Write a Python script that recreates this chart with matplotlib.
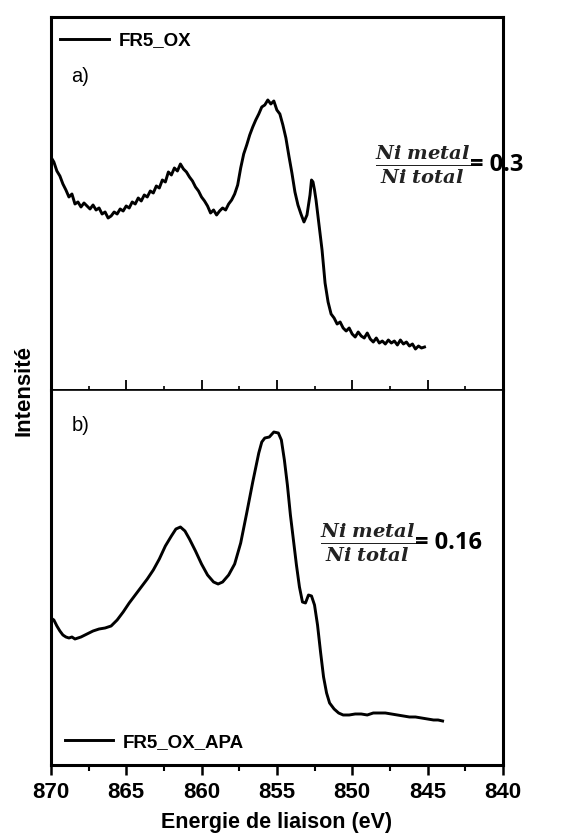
import matplotlib

matplotlib.use("Agg")
import matplotlib.pyplot as plt
from matplotlib.ticker import MultipleLocator, NullLocator

plt.rcParams["font.family"] = ["Liberation Sans", "DejaVu Sans"]
plt.rcParams["mathtext.fontset"] = "dejavuserif"

# a) FR5_OX : énergie (eV), intensité (u.a.)
energy_a = [
    870.0, 869.8, 869.6, 869.4, 869.2, 869.0, 868.8, 868.6, 868.4, 868.2,
    868.0, 867.8, 867.6, 867.4, 867.2, 867.0, 866.8, 866.6, 866.4, 866.2,
    866.0, 865.8, 865.6, 865.4, 865.2, 865.0, 864.8, 864.6, 864.4, 864.2,
    864.0, 863.8, 863.6, 863.4, 863.2, 863.0, 862.8, 862.6, 862.4, 862.2,
    862.0, 861.8, 861.6, 861.4, 861.2, 861.0, 860.8, 860.6, 860.4, 860.2,
    860.0, 859.8, 859.6, 859.4, 859.2, 859.0, 858.8, 858.6, 858.4, 858.2,
    858.0, 857.8, 857.6, 857.4, 857.2, 857.0, 856.8, 856.6, 856.4, 856.2,
    856.0, 855.8, 855.6, 855.4, 855.2, 855.0, 854.8, 854.6, 854.4, 854.2,
    854.0, 853.8, 853.6, 853.4, 853.2, 853.0, 852.8, 852.7, 852.6, 852.5,
    852.4, 852.2, 852.0, 851.8, 851.6, 851.4, 851.2, 851.0, 850.8, 850.6,
    850.4, 850.2, 850.0, 849.8, 849.6, 849.4, 849.2, 849.0, 848.8, 848.6,
    848.4, 848.2, 848.0, 847.8, 847.6, 847.4, 847.2, 847.0, 846.8, 846.6,
    846.4, 846.2, 846.0, 845.8, 845.6, 845.4, 845.2,
]
intens_a = [
    233, 228, 219, 214, 206, 200, 193, 196, 186, 188,
    183, 187, 184, 181, 185, 180, 182, 176, 178, 172,
    174, 178, 176, 181, 179, 184, 182, 188, 186, 192,
    189, 195, 193, 199, 197, 204, 202, 210, 208, 218,
    215, 222, 219, 226, 221, 218, 213, 209, 203, 199,
    193, 189, 184, 177, 180, 175, 179, 182, 180, 186,
    190, 196, 205, 222, 236, 245, 255, 263, 270, 276,
    283, 285, 290, 286, 289, 280, 276, 265, 252, 234,
    217, 198, 185, 176, 168, 175, 195, 210, 208, 200,
    190, 165, 140, 107, 88, 76, 72, 66, 68, 62,
    59, 62, 56, 53, 58, 54, 52, 57, 51, 48,
    52, 47, 49, 46, 50, 47, 49, 45, 50, 46,
    48, 44, 46, 41, 44, 42, 43,
]

# b) FR5_OX_APA
energy_b = [
    870.0, 869.8, 869.6, 869.4, 869.2, 869.0, 868.8, 868.6, 868.4, 868.2,
    868.0, 867.6, 867.2, 866.8, 866.4, 866.0, 865.6, 865.2, 864.8, 864.4,
    864.0, 863.6, 863.2, 862.8, 862.4, 862.0, 861.7, 861.4, 861.1, 860.8,
    860.4, 860.0, 859.6, 859.2, 858.9, 858.6, 858.2, 857.8, 857.4, 857.0,
    856.6, 856.2, 856.0, 855.8, 855.5, 855.2, 854.9, 854.7, 854.5, 854.3,
    854.1, 853.9, 853.7, 853.5, 853.3, 853.1, 852.9, 852.7, 852.5, 852.3,
    852.1, 851.9, 851.7, 851.5, 851.2, 850.9, 850.6, 850.2, 849.8, 849.4,
    849.0, 848.6, 848.2, 847.8, 847.4, 847.0, 846.6, 846.2, 845.8, 845.4,
    845.0, 844.6, 844.3, 844.0,
]
intens_b = [
    147, 145, 139, 134, 130, 128, 127, 128, 126, 127,
    128, 131, 134, 136, 137, 139, 145, 153, 162, 170,
    178, 186, 195, 206, 219, 229, 236, 238, 234, 226,
    214, 201, 190, 183, 181, 183, 190, 201, 222, 252,
    283, 312, 323, 327, 328, 333, 332, 325, 305, 280,
    250, 225, 200, 178, 163, 162, 170, 169, 160, 140,
    113, 88, 72, 62, 56, 52, 50, 50, 51, 51,
    50, 52, 52, 52, 51, 50, 49, 48, 48, 47,
    46, 45, 45, 44,
]

x_ticks = [870, 865, 860, 855, 850, 845, 840]
ratio_a = "= 0.3"
ratio_b = "= 0.16"
fraction = r"$\frac{\mathbfit{Ni\ metal}}{\mathbfit{Ni\ total}}$"

fig = plt.figure(figsize=(5.65, 8.4), dpi=100)
ax_a = fig.add_axes([0.090, 0.5357, 0.800, 0.4441])
ax_b = fig.add_axes([0.090, 0.0893, 0.800, 0.4464], sharex=ax_a)

ax_a.plot(energy_a, intens_a, color="black", lw=2.1, label="FR5_OX")
ax_b.plot(energy_b, intens_b, color="black", lw=2.1, label="FR5_OX_APA")

ax_a.set_xlim(870, 840)
ax_a.set_ylim(0, 373)
ax_b.set_ylim(0, 375)

for ax in (ax_a, ax_b):
    ax.yaxis.set_major_locator(NullLocator())
    for side in ("left", "right", "top", "bottom"):
        ax.spines[side].set_linewidth(2.2)
    ax.xaxis.set_major_locator(MultipleLocator(5))
    ax.xaxis.set_minor_locator(MultipleLocator(2.5))

ax_a.spines["bottom"].set_linewidth(1.2)
ax_b.spines["top"].set_linewidth(1.2)

ax_a.tick_params(axis="x", which="major", direction="in", length=7, width=1.3,
                 labelbottom=False)
ax_a.tick_params(axis="x", which="minor", direction="in", length=3, width=1.2)
ax_b.tick_params(axis="x", which="major", direction="out", length=7, width=1.8,
                 pad=5, labelsize=16)
ax_b.tick_params(axis="x", which="minor", direction="out", length=4, width=1.5)
ax_b.set_xticks(x_ticks)
for lbl in ax_b.get_xticklabels():
    lbl.set_fontweight("bold")

ax_b.set_xlabel("Energie de liaison (eV)", fontsize=15.5, fontweight="bold",
                labelpad=7)
fig.text(0.042, 0.535, "Intensité", rotation=90, fontsize=16,
         fontweight="bold", ha="center", va="center")

ax_a.legend(loc="center left", bbox_to_anchor=(0.0, 0.936), frameon=False,
            borderpad=0, handlelength=2.6, handletextpad=0.5,
            prop={"weight": "bold", "size": 13.5})
ax_b.legend(loc="center left", bbox_to_anchor=(0.01, 0.061), frameon=False,
            borderpad=0, handlelength=2.6, handletextpad=0.5,
            prop={"weight": "bold", "size": 13.5})

ax_a.text(0.045, 0.84, "a)", transform=ax_a.transAxes, fontsize=14.5,
          ha="left", va="center")
ax_b.text(0.045, 0.905, "b)", transform=ax_b.transAxes, fontsize=14.5,
          ha="left", va="center")

ratio_font = ["Open Sans", "DejaVu Sans"]
ax_a.text(0.928, 0.603, fraction, transform=ax_a.transAxes, fontsize=20,
          color="#222222", ha="right", va="center")
ax_a.text(0.928, 0.603, ratio_a, transform=ax_a.transAxes, fontsize=17,
          fontweight="bold", family=ratio_font, ha="left", va="center")
ax_b.text(0.806, 0.592, fraction, transform=ax_b.transAxes, fontsize=20,
          color="#222222", ha="right", va="center")
ax_b.text(0.806, 0.592, ratio_b, transform=ax_b.transAxes, fontsize=17,
          fontweight="bold", family=ratio_font, ha="left", va="center")

fig.savefig("out.png", dpi=100)
